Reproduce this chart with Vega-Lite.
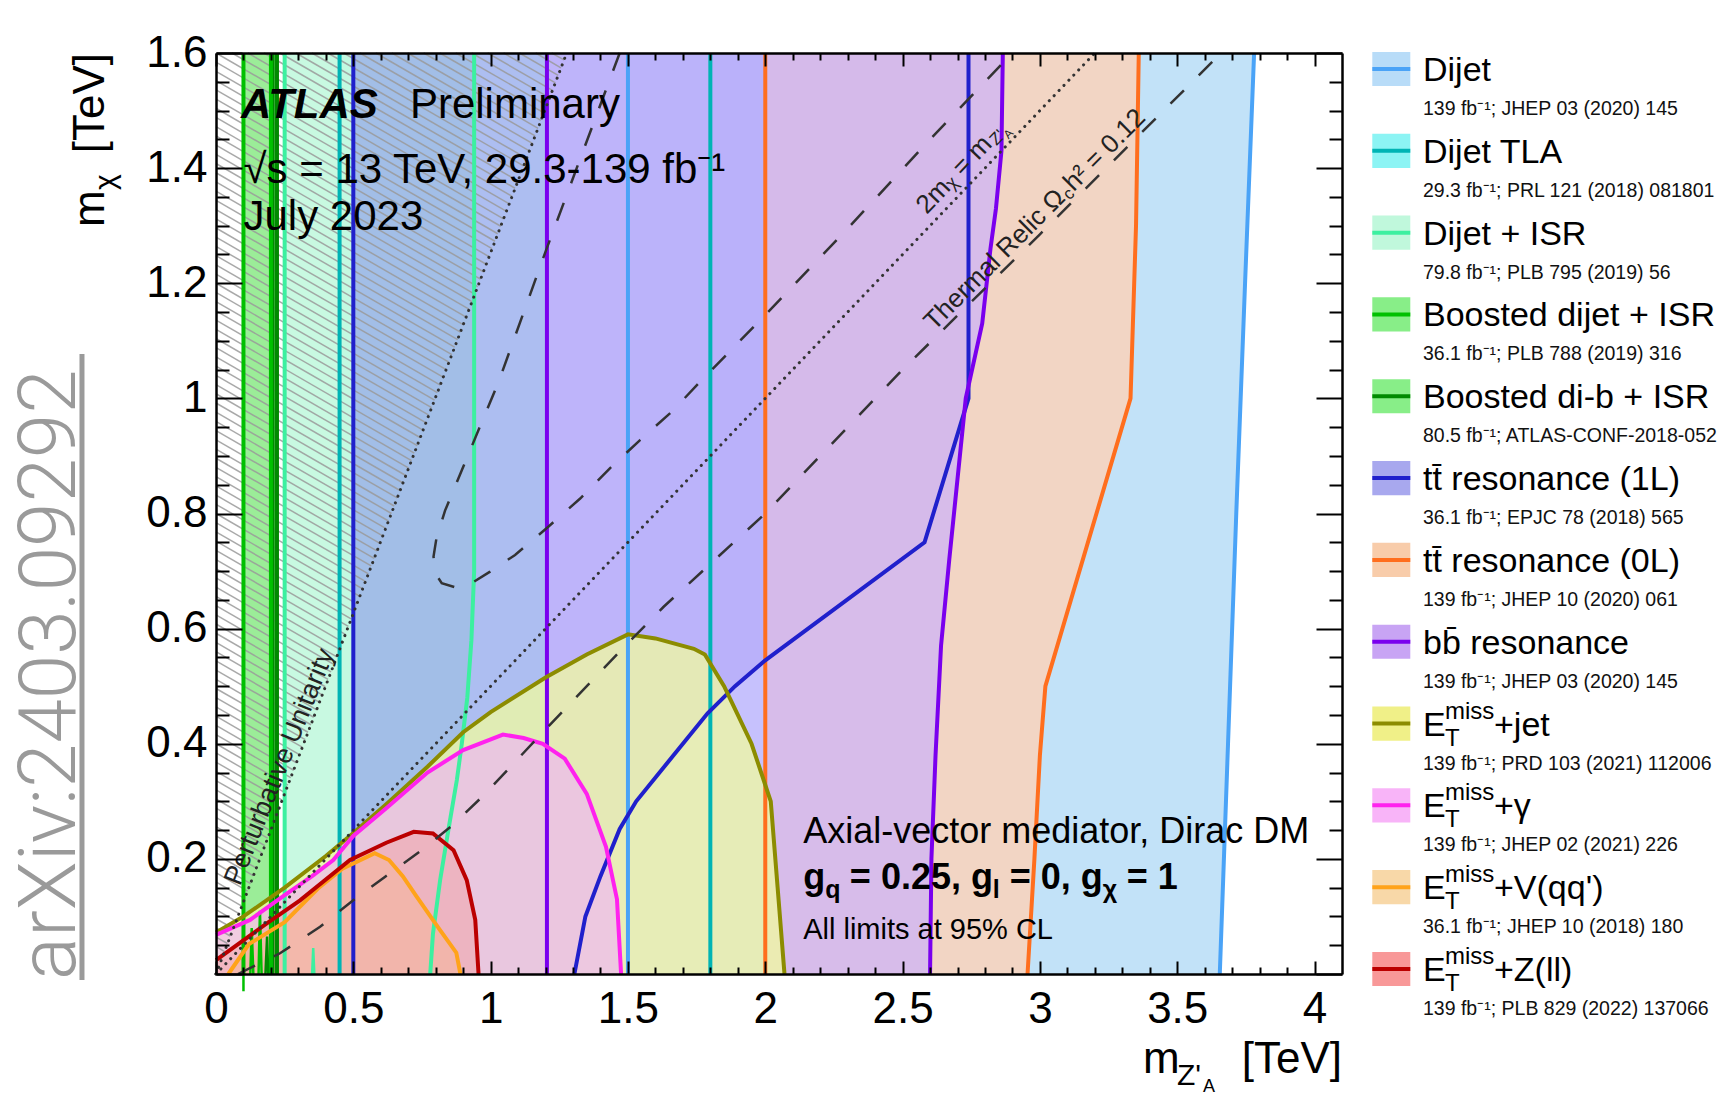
{
"$schema":"https://vega.github.io/schema/vega-lite/v6.json",
"width":1126,"height":921,
"autosize":{"type":"none"},
"padding":{"left":216,"top":53,"right":394,"bottom":124},
"background":"#ffffff",
"config":{"view":{"stroke":null},"font":"Liberation Sans"},
"datasets":{
"one":[{}],
"orig":[{"x":0,"y":0}],
"V":[
{"a":"01dijet","y":0,"x":1.5,"x2":3.655},{"a":"01dijet","y":0.4,"x":1.5,"x2":3.685},{"a":"01dijet","y":0.8,"x":1.5,"x2":3.715},{"a":"01dijet","y":1.2,"x":1.5,"x2":3.747},{"a":"01dijet","y":1.6,"x":1.5,"x2":3.78},
{"a":"02tla","y":0,"x":0.45,"x2":1.8},{"a":"02tla","y":1.6,"x":0.45,"x2":1.8},
{"a":"03isr","y":0,"x":0.25,"x2":0.78},{"a":"03isr","y":0.07,"x":0.25,"x2":0.79},{"a":"03isr","y":0.163,"x":0.25,"x2":0.816},{"a":"03isr","y":0.25,"x":0.25,"x2":0.846},{"a":"03isr","y":0.337,"x":0.25,"x2":0.877},{"a":"03isr","y":0.4,"x":0.25,"x2":0.895},{"a":"03isr","y":0.48,"x":0.25,"x2":0.915},{"a":"03isr","y":0.58,"x":0.25,"x2":0.93},{"a":"03isr","y":0.7,"x":0.25,"x2":0.94},{"a":"03isr","y":1.6,"x":0.25,"x2":0.94},
{"a":"04bdj","y":0,"x":0.1,"x2":0.2},{"a":"04bdj","y":1.6,"x":0.1,"x2":0.2},
{"a":"05bdb","y":0,"x":0.206,"x2":0.222},{"a":"05bdb","y":1.6,"x":0.206,"x2":0.222},
{"a":"06tt1","y":0,"x":0.5,"x2":1.305},{"a":"06tt1","y":0.1,"x":0.5,"x2":1.345},{"a":"06tt1","y":0.17,"x":0.5,"x2":1.4},{"a":"06tt1","y":0.252,"x":0.5,"x2":1.47},{"a":"06tt1","y":0.3,"x":0.5,"x2":1.53},{"a":"06tt1","y":0.453,"x":0.5,"x2":1.79},{"a":"06tt1","y":0.5,"x":0.5,"x2":1.89},{"a":"06tt1","y":0.545,"x":0.5,"x2":2.0},{"a":"06tt1","y":0.75,"x":0.5,"x2":2.58},{"a":"06tt1","y":1.0,"x":0.5,"x2":2.74},{"a":"06tt1","y":1.6,"x":0.5,"x2":2.74},
{"a":"07tt0","y":0,"x":2.0,"x2":2.955},{"a":"07tt0","y":0.2,"x":2.0,"x2":2.98},{"a":"07tt0","y":0.38,"x":2.0,"x2":3.0},{"a":"07tt0","y":0.5,"x":2.0,"x2":3.02},{"a":"07tt0","y":1.0,"x":2.0,"x2":3.33},{"a":"07tt0","y":1.3,"x":2.0,"x2":3.35},{"a":"07tt0","y":1.6,"x":2.0,"x2":3.36},
{"a":"08bb","y":0,"x":1.205,"x2":2.6},{"a":"08bb","y":0.2,"x":1.205,"x2":2.605},{"a":"08bb","y":0.38,"x":1.205,"x2":2.62},{"a":"08bb","y":0.57,"x":1.205,"x2":2.64},{"a":"08bb","y":0.72,"x":1.205,"x2":2.67},{"a":"08bb","y":1.0,"x":1.205,"x2":2.73},{"a":"08bb","y":1.13,"x":1.205,"x2":2.79},{"a":"08bb","y":1.26,"x":1.205,"x2":2.82},{"a":"08bb","y":1.33,"x":1.205,"x2":2.84},{"a":"08bb","y":1.43,"x":1.205,"x2":2.86},{"a":"08bb","y":1.6,"x":1.205,"x2":2.865}
],
"M":[
{"a":"09jet","x":0,"y":0.072},{"a":"09jet","x":0.1,"y":0.1},{"a":"09jet","x":0.25,"y":0.15},{"a":"09jet","x":0.4,"y":0.205},{"a":"09jet","x":0.5,"y":0.245},{"a":"09jet","x":0.62,"y":0.295},{"a":"09jet","x":0.77,"y":0.36},{"a":"09jet","x":0.9,"y":0.42},{"a":"09jet","x":1.0,"y":0.455},{"a":"09jet","x":1.2,"y":0.515},{"a":"09jet","x":1.35,"y":0.555},{"a":"09jet","x":1.5,"y":0.59},{"a":"09jet","x":1.6,"y":0.583},{"a":"09jet","x":1.74,"y":0.565},{"a":"09jet","x":1.78,"y":0.555},{"a":"09jet","x":1.85,"y":0.5},{"a":"09jet","x":1.89,"y":0.46},{"a":"09jet","x":1.95,"y":0.4},{"a":"09jet","x":2.02,"y":0.3},{"a":"09jet","x":2.045,"y":0.15},{"a":"09jet","x":2.07,"y":0},
{"a":"10gam","x":0,"y":0.068},{"a":"10gam","x":0.124,"y":0.094},{"a":"10gam","x":0.25,"y":0.137},{"a":"10gam","x":0.35,"y":0.17},{"a":"10gam","x":0.427,"y":0.198},{"a":"10gam","x":0.5,"y":0.24},{"a":"10gam","x":0.62,"y":0.288},{"a":"10gam","x":0.77,"y":0.35},{"a":"10gam","x":0.9,"y":0.389},{"a":"10gam","x":1.045,"y":0.416},{"a":"10gam","x":1.12,"y":0.41},{"a":"10gam","x":1.19,"y":0.4},{"a":"10gam","x":1.27,"y":0.374},{"a":"10gam","x":1.35,"y":0.313},{"a":"10gam","x":1.42,"y":0.221},{"a":"10gam","x":1.46,"y":0.13},{"a":"10gam","x":1.475,"y":0},
{"a":"11v","x":0.045,"y":0},{"a":"11v","x":0.12,"y":0.052},{"a":"11v","x":0.25,"y":0.09},{"a":"11v","x":0.37,"y":0.148},{"a":"11v","x":0.46,"y":0.183},{"a":"11v","x":0.578,"y":0.21},{"a":"11v","x":0.63,"y":0.198},{"a":"11v","x":0.68,"y":0.17},{"a":"11v","x":0.73,"y":0.135},{"a":"11v","x":0.81,"y":0.08},{"a":"11v","x":0.875,"y":0.037},{"a":"11v","x":0.89,"y":0},
{"a":"12z","x":0,"y":0.024},{"a":"12z","x":0.185,"y":0.088},{"a":"12z","x":0.306,"y":0.128},{"a":"12z","x":0.488,"y":0.198},{"a":"12z","x":0.62,"y":0.228},{"a":"12z","x":0.72,"y":0.247},{"a":"12z","x":0.79,"y":0.244},{"a":"12z","x":0.865,"y":0.215},{"a":"12z","x":0.913,"y":0.163},{"a":"12z","x":0.944,"y":0.094},{"a":"12z","x":0.956,"y":0}
],
"E":[
{"a":"04bdj","s":"e1","x":0.1,"y":-0.03},{"a":"04bdj","s":"e1","x":0.1,"y":0},
{"a":"04bdj","s":"e2","x":0.125,"y":0},{"a":"04bdj","s":"e2","x":0.13,"y":0.08},{"a":"04bdj","s":"e2","x":0.136,"y":0},
{"a":"04bdj","s":"e3","x":0.155,"y":0},{"a":"04bdj","s":"e3","x":0.16,"y":0.11},{"a":"04bdj","s":"e3","x":0.166,"y":0},
{"a":"05bdb","s":"e4","x":0.18,"y":0},{"a":"05bdb","s":"e4","x":0.186,"y":0.065},{"a":"05bdb","s":"e4","x":0.19,"y":0},
{"a":"03isr","s":"e5","x":0.35,"y":0},{"a":"03isr","s":"e5","x":0.354,"y":0.045},{"a":"03isr","s":"e5","x":0.358,"y":0}
],
"R":[{"x":0,"y":0,"x2":1.277,"y2":1.6},{"x":0,"y":0,"x2":3.2,"y2":1.6}],
"T":[
{"s":"A","i":0,"x":1.47,"y":1.6},{"s":"A","i":1,"x":1.2,"y":1.255},{"s":"A","i":2,"x":1.03,"y":1.03},{"s":"A","i":3,"x":0.895,"y":0.875},{"s":"A","i":4,"x":0.834,"y":0.805},{"s":"A","i":5,"x":0.803,"y":0.758},{"s":"A","i":6,"x":0.792,"y":0.725},{"s":"A","i":7,"x":0.8,"y":0.695},{"s":"A","i":8,"x":0.822,"y":0.679},{"s":"A","i":9,"x":0.87,"y":0.672},{"s":"A","i":10,"x":0.931,"y":0.679},{"s":"A","i":11,"x":0.998,"y":0.699},{"s":"A","i":12,"x":1.089,"y":0.728},{"s":"A","i":13,"x":1.21,"y":0.777},{"s":"A","i":14,"x":1.326,"y":0.826},{"s":"A","i":15,"x":1.435,"y":0.879},{"s":"A","i":16,"x":1.545,"y":0.928},{"s":"A","i":17,"x":1.66,"y":0.977},{"s":"A","i":18,"x":1.763,"y":1.029},{"s":"A","i":19,"x":2.0,"y":1.145},{"s":"A","i":20,"x":2.3,"y":1.295},{"s":"A","i":21,"x":2.6,"y":1.45},{"s":"A","i":22,"x":2.9,"y":1.6},
{"s":"B","i":0,"x":0.08,"y":0},{"s":"B","i":1,"x":0.233,"y":0.036},{"s":"B","i":2,"x":0.379,"y":0.082},{"s":"B","i":3,"x":0.494,"y":0.126},{"s":"B","i":4,"x":0.616,"y":0.169},{"s":"B","i":5,"x":0.749,"y":0.215},{"s":"B","i":6,"x":0.86,"y":0.258},{"s":"B","i":7,"x":0.974,"y":0.31},{"s":"B","i":8,"x":1.2,"y":0.425},{"s":"B","i":9,"x":1.5,"y":0.575},{"s":"B","i":10,"x":1.63,"y":0.638},{"s":"B","i":11,"x":2.0,"y":0.8},{"s":"B","i":12,"x":2.5,"y":1.05},{"s":"B","i":13,"x":3.0,"y":1.285},{"s":"B","i":14,"x":3.66,"y":1.6}
],
"H":[
{"x":0,"y":0.016,"x2":0.010,"y2":0.013},{"x":0,"y":0.032,"x2":0.021,"y2":0.026},{"x":0,"y":0.048,"x2":0.031,"y2":0.039},{"x":0,"y":0.064,"x2":0.042,"y2":0.053},{"x":0,"y":0.08,"x2":0.052,"y2":0.066},{"x":0,"y":0.096,"x2":0.063,"y2":0.079},{"x":0,"y":0.112,"x2":0.073,"y2":0.092},{"x":0,"y":0.128,"x2":0.084,"y2":0.105},{"x":0,"y":0.144,"x2":0.094,"y2":0.118},{"x":0,"y":0.16,"x2":0.105,"y2":0.131},
{"x":0,"y":0.176,"x2":0.115,"y2":0.144},{"x":0,"y":0.192,"x2":0.126,"y2":0.157},{"x":0,"y":0.208,"x2":0.136,"y2":0.171},{"x":0,"y":0.224,"x2":0.147,"y2":0.184},{"x":0,"y":0.24,"x2":0.157,"y2":0.197},{"x":0,"y":0.256,"x2":0.168,"y2":0.21},{"x":0,"y":0.272,"x2":0.178,"y2":0.223},{"x":0,"y":0.288,"x2":0.188,"y2":0.236},{"x":0,"y":0.304,"x2":0.199,"y2":0.249},{"x":0,"y":0.32,"x2":0.209,"y2":0.262},
{"x":0,"y":0.336,"x2":0.22,"y2":0.276},{"x":0,"y":0.352,"x2":0.23,"y2":0.289},{"x":0,"y":0.368,"x2":0.241,"y2":0.302},{"x":0,"y":0.384,"x2":0.251,"y2":0.315},{"x":0,"y":0.4,"x2":0.262,"y2":0.328},{"x":0,"y":0.416,"x2":0.272,"y2":0.341},{"x":0,"y":0.432,"x2":0.283,"y2":0.354},{"x":0,"y":0.448,"x2":0.293,"y2":0.367},{"x":0,"y":0.464,"x2":0.304,"y2":0.381},{"x":0,"y":0.48,"x2":0.314,"y2":0.394},
{"x":0,"y":0.496,"x2":0.325,"y2":0.407},{"x":0,"y":0.512,"x2":0.335,"y2":0.42},{"x":0,"y":0.528,"x2":0.346,"y2":0.433},{"x":0,"y":0.544,"x2":0.356,"y2":0.446},{"x":0,"y":0.56,"x2":0.367,"y2":0.459},{"x":0,"y":0.576,"x2":0.377,"y2":0.472},{"x":0,"y":0.592,"x2":0.387,"y2":0.485},{"x":0,"y":0.608,"x2":0.398,"y2":0.499},{"x":0,"y":0.624,"x2":0.408,"y2":0.512},{"x":0,"y":0.64,"x2":0.419,"y2":0.525},
{"x":0,"y":0.656,"x2":0.429,"y2":0.538},{"x":0,"y":0.672,"x2":0.44,"y2":0.551},{"x":0,"y":0.688,"x2":0.45,"y2":0.564},{"x":0,"y":0.704,"x2":0.461,"y2":0.577},{"x":0,"y":0.72,"x2":0.471,"y2":0.59},{"x":0,"y":0.736,"x2":0.482,"y2":0.604},{"x":0,"y":0.752,"x2":0.492,"y2":0.617},{"x":0,"y":0.768,"x2":0.503,"y2":0.63},{"x":0,"y":0.784,"x2":0.513,"y2":0.643},{"x":0,"y":0.8,"x2":0.524,"y2":0.656},
{"x":0,"y":0.816,"x2":0.534,"y2":0.669},{"x":0,"y":0.832,"x2":0.544,"y2":0.682},{"x":0,"y":0.848,"x2":0.555,"y2":0.695},{"x":0,"y":0.864,"x2":0.565,"y2":0.709},{"x":0,"y":0.88,"x2":0.576,"y2":0.722},{"x":0,"y":0.896,"x2":0.586,"y2":0.735},{"x":0,"y":0.912,"x2":0.597,"y2":0.748},{"x":0,"y":0.928,"x2":0.607,"y2":0.761},{"x":0,"y":0.944,"x2":0.618,"y2":0.774},{"x":0,"y":0.96,"x2":0.628,"y2":0.787},
{"x":0,"y":0.976,"x2":0.639,"y2":0.8},{"x":0,"y":0.992,"x2":0.649,"y2":0.813},{"x":0,"y":1.008,"x2":0.66,"y2":0.827},{"x":0,"y":1.024,"x2":0.67,"y2":0.84},{"x":0,"y":1.04,"x2":0.681,"y2":0.853},{"x":0,"y":1.056,"x2":0.691,"y2":0.866},{"x":0,"y":1.072,"x2":0.702,"y2":0.879},{"x":0,"y":1.088,"x2":0.712,"y2":0.892},{"x":0,"y":1.104,"x2":0.722,"y2":0.905},{"x":0,"y":1.12,"x2":0.733,"y2":0.918},
{"x":0,"y":1.136,"x2":0.743,"y2":0.932},{"x":0,"y":1.152,"x2":0.754,"y2":0.945},{"x":0,"y":1.168,"x2":0.764,"y2":0.958},{"x":0,"y":1.184,"x2":0.775,"y2":0.971},{"x":0,"y":1.2,"x2":0.785,"y2":0.984},{"x":0,"y":1.216,"x2":0.796,"y2":0.997},{"x":0,"y":1.232,"x2":0.806,"y2":1.01},{"x":0,"y":1.248,"x2":0.817,"y2":1.023},{"x":0,"y":1.264,"x2":0.827,"y2":1.037},{"x":0,"y":1.28,"x2":0.838,"y2":1.05},
{"x":0,"y":1.296,"x2":0.848,"y2":1.063},{"x":0,"y":1.312,"x2":0.859,"y2":1.076},{"x":0,"y":1.328,"x2":0.869,"y2":1.089},{"x":0,"y":1.344,"x2":0.88,"y2":1.102},{"x":0,"y":1.36,"x2":0.89,"y2":1.115},{"x":0,"y":1.376,"x2":0.9,"y2":1.128},{"x":0,"y":1.392,"x2":0.911,"y2":1.141},{"x":0,"y":1.408,"x2":0.921,"y2":1.155},{"x":0,"y":1.424,"x2":0.932,"y2":1.168},{"x":0,"y":1.44,"x2":0.942,"y2":1.181},
{"x":0,"y":1.456,"x2":0.953,"y2":1.194},{"x":0,"y":1.472,"x2":0.963,"y2":1.207},{"x":0,"y":1.488,"x2":0.974,"y2":1.22},{"x":0,"y":1.504,"x2":0.984,"y2":1.233},{"x":0,"y":1.52,"x2":0.995,"y2":1.246},{"x":0,"y":1.536,"x2":1.005,"y2":1.26},{"x":0,"y":1.552,"x2":1.016,"y2":1.273},{"x":0,"y":1.568,"x2":1.026,"y2":1.286},{"x":0,"y":1.584,"x2":1.037,"y2":1.299},{"x":0,"y":1.6,"x2":1.047,"y2":1.312},
{"x":0.058,"y":1.6,"x2":1.058,"y2":1.325},{"x":0.116,"y":1.6,"x2":1.068,"y2":1.338},{"x":0.175,"y":1.6,"x2":1.078,"y2":1.351},{"x":0.233,"y":1.6,"x2":1.089,"y2":1.365},{"x":0.291,"y":1.6,"x2":1.099,"y2":1.378},{"x":0.349,"y":1.6,"x2":1.11,"y2":1.391},{"x":0.407,"y":1.6,"x2":1.12,"y2":1.404},{"x":0.465,"y":1.6,"x2":1.131,"y2":1.417},{"x":0.524,"y":1.6,"x2":1.141,"y2":1.43},{"x":0.582,"y":1.6,"x2":1.152,"y2":1.443},
{"x":0.64,"y":1.6,"x2":1.162,"y2":1.456},{"x":0.698,"y":1.6,"x2":1.173,"y2":1.469},{"x":0.756,"y":1.6,"x2":1.183,"y2":1.483},{"x":0.815,"y":1.6,"x2":1.194,"y2":1.496},{"x":0.873,"y":1.6,"x2":1.204,"y2":1.509},{"x":0.931,"y":1.6,"x2":1.215,"y2":1.522},{"x":0.989,"y":1.6,"x2":1.225,"y2":1.535},{"x":1.047,"y":1.6,"x2":1.236,"y2":1.548},{"x":1.105,"y":1.6,"x2":1.246,"y2":1.561},{"x":1.164,"y":1.6,"x2":1.256,"y2":1.574},{"x":1.222,"y":1.6,"x2":1.267,"y2":1.588}
],
"G":[
{"a":"01dijet","t1":"Dijet","sup":"","sub":"","t2":"","ref":"139 fb⁻¹; JHEP 03 (2020) 145"},
{"a":"02tla","t1":"Dijet TLA","sup":"","sub":"","t2":"","ref":"29.3 fb⁻¹; PRL 121 (2018) 081801"},
{"a":"03isr","t1":"Dijet + ISR","sup":"","sub":"","t2":"","ref":"79.8 fb⁻¹; PLB 795 (2019) 56"},
{"a":"04bdj","t1":"Boosted dijet + ISR","sup":"","sub":"","t2":"","ref":"36.1 fb⁻¹; PLB 788 (2019) 316"},
{"a":"05bdb","t1":"Boosted di-b + ISR","sup":"","sub":"","t2":"","ref":"80.5 fb⁻¹; ATLAS-CONF-2018-052"},
{"a":"06tt1","t1":"tt\u0304 resonance (1L)","sup":"","sub":"","t2":"","ref":"36.1 fb⁻¹; EPJC 78 (2018) 565"},
{"a":"07tt0","t1":"tt\u0304 resonance (0L)","sup":"","sub":"","t2":"","ref":"139 fb⁻¹; JHEP 10 (2020) 061"},
{"a":"08bb","t1":"bb\u0304 resonance","sup":"","sub":"","t2":"","ref":"139 fb⁻¹; JHEP 03 (2020) 145"},
{"a":"09jet","t1":"E","sup":"miss","sub":"T","t2":"+jet","ref":"139 fb⁻¹; PRD 103 (2021) 112006"},
{"a":"10gam","t1":"E","sup":"miss","sub":"T","t2":"+γ","ref":"139 fb⁻¹; JHEP 02 (2021) 226"},
{"a":"11v","t1":"E","sup":"miss","sub":"T","t2":"+V(qq')","ref":"36.1 fb⁻¹; JHEP 10 (2018) 180"},
{"a":"12z","t1":"E","sup":"miss","sub":"T","t2":"+Z(ll)","ref":"139 fb⁻¹; PLB 829 (2022) 137066"}
]
},
"layer":[
{
"layer":[
{"data":{"name":"V"},"mark":{"type":"area","orient":"horizontal"},"encoding":{
"y":{"field":"y","type":"quantitative","scale":{"domain":[0,1.6],"nice":false,"zero":false},"axis":null},
"x":{"field":"x","type":"quantitative","stack":null,"scale":{"domain":[0,4.1],"nice":false,"zero":false},"axis":null},
"x2":{"field":"x2"},
"fill":{"field":"a","type":"nominal","scale":{"domain":["01dijet","02tla","03isr","04bdj","05bdb","06tt1","07tt0","08bb","09jet","10gam","11v","12z"],"range":["rgba(194,226,248,1)","rgba(200,248,248,0.6)","rgba(190,248,220,0.85)","rgba(150,236,146,0.95)","rgba(100,215,100,0.9)","rgba(140,150,235,0.6)","rgba(250,210,187,0.85)","rgba(200,175,255,0.65)","rgba(240,250,160,0.76)","rgba(240,170,255,0.57)","rgba(250,205,140,0.42)","rgba(245,150,145,0.38)"]},"legend":null}}},
{"data":{"name":"M"},"mark":{"type":"area","orient":"vertical"},"encoding":{
"x":{"field":"x","type":"quantitative","axis":null},
"y":{"field":"y","type":"quantitative","stack":null,"axis":null},
"y2":{"datum":0},
"fill":{"field":"a","type":"nominal","scale":{"domain":["01dijet","02tla","03isr","04bdj","05bdb","06tt1","07tt0","08bb","09jet","10gam","11v","12z"],"range":["rgba(194,226,248,1)","rgba(200,248,248,0.6)","rgba(190,248,220,0.85)","rgba(150,236,146,0.95)","rgba(100,215,100,0.9)","rgba(140,150,235,0.6)","rgba(250,210,187,0.85)","rgba(200,175,255,0.65)","rgba(240,250,160,0.76)","rgba(240,170,255,0.57)","rgba(250,205,140,0.42)","rgba(245,150,145,0.38)"]},"legend":null}}},
{"data":{"name":"H"},"mark":{"type":"rule","color":"#9a9a9a","strokeWidth":1.5,"opacity":0.85},"encoding":{
"x":{"field":"x","type":"quantitative","axis":null},"y":{"field":"y","type":"quantitative","axis":null},"x2":{"field":"x2"},"y2":{"field":"y2"}}},
{"data":{"name":"V"},"mark":{"type":"line","strokeWidth":4},"encoding":{
"x":{"field":"x","type":"quantitative","axis":null},"y":{"field":"y","type":"quantitative","axis":null},
"stroke":{"field":"a","type":"nominal","scale":{"domain":["01dijet","02tla","03isr","04bdj","05bdb","06tt1","07tt0","08bb","09jet","10gam","11v","12z"],"range":["#4aa3f7","#00b4b4","#3cf0a0","#00c000","#008a00","#2020cc","#ff6e1e","#7a00ee","#8c8c00","#ff22ee","#ffa31a","#bb0000"]},"legend":null},
"order":{"field":"y","type":"quantitative"}}},
{"data":{"name":"V"},"mark":{"type":"line","strokeWidth":4},"encoding":{
"x":{"field":"x2","type":"quantitative","axis":null},"y":{"field":"y","type":"quantitative","axis":null},
"stroke":{"field":"a","type":"nominal","legend":null},
"order":{"field":"y","type":"quantitative"}}},
{"data":{"name":"E"},"mark":{"type":"line","strokeWidth":2.5},"encoding":{
"x":{"field":"x","type":"quantitative","axis":null},"y":{"field":"y","type":"quantitative","axis":null},
"stroke":{"field":"a","type":"nominal","legend":null},"detail":{"field":"s"}}},
{"data":{"name":"M"},"mark":{"type":"line","strokeWidth":4},"encoding":{
"x":{"field":"x","type":"quantitative","axis":null},"y":{"field":"y","type":"quantitative","axis":null},
"stroke":{"field":"a","type":"nominal","legend":null}}},
{"data":{"name":"R"},"mark":{"type":"rule","color":"#333333","strokeWidth":3,"strokeDash":[0.1,7],"strokeCap":"round"},"encoding":{
"x":{"field":"x","type":"quantitative","axis":null},"y":{"field":"y","type":"quantitative","axis":null},"x2":{"field":"x2"},"y2":{"field":"y2"}}},
{"data":{"name":"T"},"mark":{"type":"line","color":"#333333","strokeWidth":2.5,"strokeDash":[19,21]},"encoding":{
"x":{"field":"x","type":"quantitative","axis":null},"y":{"field":"y","type":"quantitative","axis":null},
"detail":{"field":"s"},"order":{"field":"i","type":"quantitative"}}},

{"data":{"name":"one"},"mark":{"type":"text","text":"ATLAS","fontSize":42,"fontWeight":"bold","fontStyle":"italic","align":"left","baseline":"alphabetic","color":"#000"},"encoding":{"x":{"datum":0.091,"axis":null},"y":{"datum":1.487,"axis":null}}},
{"data":{"name":"one"},"mark":{"type":"text","text":"Preliminary","fontSize":42,"align":"left","baseline":"alphabetic","color":"#000"},"encoding":{"x":{"datum":0.706,"axis":null},"y":{"datum":1.487,"axis":null}}},
{"data":{"name":"one"},"mark":{"type":"text","text":"√s = 13 TeV, 29.3-139 fb⁻¹","fontSize":42,"align":"left","baseline":"alphabetic","color":"#000"},"encoding":{"x":{"datum":0.1,"axis":null},"y":{"datum":1.374,"axis":null}}},
{"data":{"name":"one"},"mark":{"type":"text","text":"July 2023","fontSize":42,"align":"left","baseline":"alphabetic","color":"#000"},"encoding":{"x":{"datum":0.1,"axis":null},"y":{"datum":1.293,"axis":null}}},
{"data":{"name":"one"},"mark":{"type":"text","text":"Axial-vector mediator, Dirac DM","fontSize":36,"align":"left","baseline":"alphabetic","color":"#000"},"encoding":{"x":{"datum":2.138,"axis":null},"y":{"datum":0.227,"axis":null}}},
{"data":{"name":"one"},"mark":{"type":"text","text":"g","fontSize":36,"fontWeight":"bold","align":"left","baseline":"alphabetic","color":"#000"},"encoding":{"x":{"datum":2.138,"axis":null},"y":{"datum":0.148,"axis":null}}},
{"data":{"name":"one"},"mark":{"type":"text","text":"q","fontSize":25,"fontWeight":"bold","align":"left","baseline":"alphabetic","dx":22,"dy":9,"color":"#000"},"encoding":{"x":{"datum":2.138,"axis":null},"y":{"datum":0.148,"axis":null}}},
{"data":{"name":"one"},"mark":{"type":"text","text":"= 0.25, g","fontSize":36,"fontWeight":"bold","align":"left","baseline":"alphabetic","dx":46.7,"color":"#000"},"encoding":{"x":{"datum":2.138,"axis":null},"y":{"datum":0.148,"axis":null}}},
{"data":{"name":"one"},"mark":{"type":"text","text":"l","fontSize":25,"fontWeight":"bold","align":"left","baseline":"alphabetic","dx":189.7,"dy":9,"color":"#000"},"encoding":{"x":{"datum":2.138,"axis":null},"y":{"datum":0.148,"axis":null}}},
{"data":{"name":"one"},"mark":{"type":"text","text":"= 0, g","fontSize":36,"fontWeight":"bold","align":"left","baseline":"alphabetic","dx":206.6,"color":"#000"},"encoding":{"x":{"datum":2.138,"axis":null},"y":{"datum":0.148,"axis":null}}},
{"data":{"name":"one"},"mark":{"type":"text","text":"χ","fontSize":25,"fontWeight":"bold","align":"left","baseline":"alphabetic","dx":299.6,"dy":9,"color":"#000"},"encoding":{"x":{"datum":2.138,"axis":null},"y":{"datum":0.148,"axis":null}}},
{"data":{"name":"one"},"mark":{"type":"text","text":"= 1","fontSize":36,"fontWeight":"bold","align":"left","baseline":"alphabetic","dx":323.6,"color":"#000"},"encoding":{"x":{"datum":2.138,"axis":null},"y":{"datum":0.148,"axis":null}}},
{"data":{"name":"one"},"mark":{"type":"text","text":"All limits at 95% CL","fontSize":29,"align":"left","baseline":"alphabetic","color":"#000"},"encoding":{"x":{"datum":2.138,"axis":null},"y":{"datum":0.061,"axis":null}}},
{"data":{"name":"one"},"mark":{"type":"text","text":"Perturbative Unitarity","fontSize":27,"align":"center","baseline":"middle","angle":292,"color":"#222"},"encoding":{"x":{"datum":0.232,"axis":null},"y":{"datum":0.36,"axis":null}}},
{"data":{"name":"one"},"mark":{"type":"text","text":"2mᵪ = m","fontSize":26,"align":"left","baseline":"middle","angle":313.6,"color":"#222"},"encoding":{"x":{"datum":2.567,"axis":null},"y":{"datum":1.328,"axis":null}}},
{"data":{"name":"one"},"mark":{"type":"text","text":"Z'","fontSize":17,"align":"left","baseline":"middle","angle":313.6,"dx":98,"dy":6,"color":"#222"},"encoding":{"x":{"datum":2.567,"axis":null},"y":{"datum":1.328,"axis":null}}},
{"data":{"name":"one"},"mark":{"type":"text","text":"A","fontSize":12,"align":"left","baseline":"middle","angle":313.6,"dx":111,"dy":11,"color":"#222"},"encoding":{"x":{"datum":2.567,"axis":null},"y":{"datum":1.328,"axis":null}}},
{"data":{"name":"one"},"mark":{"type":"text","text":"Thermal Relic Ω","fontSize":26,"align":"left","baseline":"middle","angle":315,"color":"#222"},"encoding":{"x":{"datum":2.595,"axis":null},"y":{"datum":1.126,"axis":null}}},
{"data":{"name":"one"},"mark":{"type":"text","text":"c","fontSize":17,"align":"left","baseline":"middle","angle":315,"dx":188,"dy":6,"color":"#222"},"encoding":{"x":{"datum":2.595,"axis":null},"y":{"datum":1.126,"axis":null}}},
{"data":{"name":"one"},"mark":{"type":"text","text":"h² = 0.12","fontSize":26,"align":"left","baseline":"middle","angle":315,"dx":197,"color":"#222"},"encoding":{"x":{"datum":2.595,"axis":null},"y":{"datum":1.126,"axis":null}}},
{"data":{"name":"one"},"mark":{"type":"text","text":"[TeV]","fontSize":44,"align":"right","baseline":"alphabetic","dy":99,"color":"#000"},"encoding":{"x":{"datum":4.1,"axis":null},"y":{"datum":0,"axis":null}}},
{"data":{"name":"one"},"mark":{"type":"text","text":"m","fontSize":44,"align":"left","baseline":"alphabetic","dx":-199,"dy":99,"color":"#000"},"encoding":{"x":{"datum":4.1,"axis":null},"y":{"datum":0,"axis":null}}},
{"data":{"name":"one"},"mark":{"type":"text","text":"Z'","fontSize":30,"align":"left","baseline":"alphabetic","dx":-165,"dy":111,"color":"#000"},"encoding":{"x":{"datum":4.1,"axis":null},"y":{"datum":0,"axis":null}}},
{"data":{"name":"one"},"mark":{"type":"text","text":"A","fontSize":18,"align":"left","baseline":"alphabetic","dx":-139,"dy":118,"color":"#000"},"encoding":{"x":{"datum":4.1,"axis":null},"y":{"datum":0,"axis":null}}},
{"data":{"name":"one"},"mark":{"type":"text","text":"m","fontSize":44,"align":"left","baseline":"alphabetic","angle":270,"dx":-174,"dy":-112,"color":"#000"},"encoding":{"x":{"datum":0,"axis":null},"y":{"datum":1.6,"axis":null}}},
{"data":{"name":"one"},"mark":{"type":"text","text":"χ","fontSize":30,"align":"left","baseline":"alphabetic","angle":270,"dx":-137,"dy":-101,"color":"#000"},"encoding":{"x":{"datum":0,"axis":null},"y":{"datum":1.6,"axis":null}}},
{"data":{"name":"one"},"mark":{"type":"text","text":"[TeV]","fontSize":44,"align":"right","baseline":"alphabetic","angle":270,"dx":0,"dy":-112,"color":"#000"},"encoding":{"x":{"datum":0,"axis":null},"y":{"datum":1.6,"axis":null}}},
{"data":{"name":"one"},"mark":{"type":"text","text":"arXiv:2403.09292","font":"Roboto","fontWeight":300,"fontSize":80,"align":"left","baseline":"alphabetic","angle":270,"dx":-6,"dy":-141,"color":"#9a9a9a"},"encoding":{"x":{"datum":0,"axis":null},"y":{"datum":0,"axis":null}}},
{"data":{"name":"one"},"mark":{"type":"rule","color":"#9a9a9a","strokeWidth":5},"encoding":{"x":{"datum":-0.488,"axis":null},"y":{"datum":-0.0104,"axis":null},"y2":{"datum":1.077}}},

{"data":{"name":"orig"},"mark":{"type":"point","opacity":0},"encoding":{
"x":{"field":"x","type":"quantitative","axis":{"orient":"bottom","values":[0,0.5,1,1.5,2,2.5,3,3.5,4],"format":"~g","ticks":false,"domain":true,"domainColor":"#000","domainWidth":2.5,"grid":false,"labelFontSize":44,"labelFont":"Liberation Sans","labelColor":"#000","labelPadding":13,"labelFlush":false,"labelOverlap":false,"labelBaseline":"top","title":null,"zindex":2}},
"y":{"field":"y","type":"quantitative","axis":{"orient":"left","values":[0.2,0.4,0.6,0.8,1,1.2,1.4,1.6],"format":"~g","ticks":false,"domain":true,"domainColor":"#000","domainWidth":2.5,"grid":false,"labelFontSize":44,"labelFont":"Liberation Sans","labelColor":"#000","labelPadding":9,"labelFlush":false,"labelOverlap":false,"title":null,"zindex":2}}}},
{"data":{"name":"orig"},"mark":{"type":"point","opacity":0},"encoding":{
"x":{"field":"x","type":"quantitative","axis":{"orient":"bottom","values":[0,0.5,1,1.5,2,2.5,3,3.5,4],"labels":false,"domain":false,"ticks":true,"tickSize":-13,"tickWidth":2,"tickColor":"#000","grid":false,"title":null,"zindex":2}},
"y":{"field":"y","type":"quantitative","axis":{"orient":"left","values":[0,0.2,0.4,0.6,0.8,1,1.2,1.4,1.6],"labels":false,"domain":false,"ticks":true,"tickSize":-26,"tickWidth":2,"tickColor":"#000","grid":false,"title":null,"zindex":2}}}},
{"data":{"name":"orig"},"mark":{"type":"point","opacity":0},"encoding":{
"x":{"field":"x","type":"quantitative","axis":{"orient":"bottom","values":[0.1,0.2,0.3,0.4,0.6,0.7,0.8,0.9,1.1,1.2,1.3,1.4,1.6,1.7,1.8,1.9,2.1,2.2,2.3,2.4,2.6,2.7,2.8,2.9,3.1,3.2,3.3,3.4,3.6,3.7,3.8,3.9],"labels":false,"domain":false,"ticks":true,"tickSize":-7,"tickWidth":2,"tickColor":"#000","grid":false,"title":null,"zindex":2}},
"y":{"field":"y","type":"quantitative","axis":{"orient":"left","values":[0.05,0.1,0.15,0.25,0.3,0.35,0.45,0.5,0.55,0.65,0.7,0.75,0.85,0.9,0.95,1.05,1.1,1.15,1.25,1.3,1.35,1.45,1.5,1.55],"labels":false,"domain":false,"ticks":true,"tickSize":-13,"tickWidth":2,"tickColor":"#000","grid":false,"title":null,"zindex":2}}}},
{"data":{"name":"orig"},"mark":{"type":"point","opacity":0},"encoding":{
"x":{"field":"x","type":"quantitative","axis":{"orient":"top","values":[0,0.5,1,1.5,2,2.5,3,3.5,4],"labels":false,"domain":true,"domainColor":"#000","domainWidth":2.5,"ticks":true,"tickSize":-13,"tickWidth":2,"tickColor":"#000","grid":false,"title":null,"zindex":2}},
"y":{"field":"y","type":"quantitative","axis":{"orient":"right","values":[0,0.2,0.4,0.6,0.8,1,1.2,1.4,1.6],"labels":false,"domain":true,"domainColor":"#000","domainWidth":2.5,"ticks":true,"tickSize":-26,"tickWidth":2,"tickColor":"#000","grid":false,"title":null,"zindex":2}}}},
{"data":{"name":"orig"},"mark":{"type":"point","opacity":0},"encoding":{
"x":{"field":"x","type":"quantitative","axis":{"orient":"top","values":[0.1,0.2,0.3,0.4,0.6,0.7,0.8,0.9,1.1,1.2,1.3,1.4,1.6,1.7,1.8,1.9,2.1,2.2,2.3,2.4,2.6,2.7,2.8,2.9,3.1,3.2,3.3,3.4,3.6,3.7,3.8,3.9],"labels":false,"domain":false,"ticks":true,"tickSize":-7,"tickWidth":2,"tickColor":"#000","grid":false,"title":null,"zindex":2}},
"y":{"field":"y","type":"quantitative","axis":{"orient":"right","values":[0.05,0.1,0.15,0.25,0.3,0.35,0.45,0.5,0.55,0.65,0.7,0.75,0.85,0.9,0.95,1.05,1.1,1.15,1.25,1.3,1.35,1.45,1.5,1.55],"labels":false,"domain":false,"ticks":true,"tickSize":-13,"tickWidth":2,"tickColor":"#000","grid":false,"title":null,"zindex":2}}}}
],
"resolve":{"axis":{"x":"independent","y":"independent"}}
},
{
"layer":[
{"data":{"name":"G"},"mark":{"type":"point","shape":"M-1,-0.9H1V0.9H-1Z","size":1444,"filled":true,"opacity":1,"strokeWidth":0},"encoding":{
"x":{"datum":0.0504,"type":"quantitative","scale":{"domain":[0,1],"range":[1157,1520]},"axis":null},
"y":{"field":"a","type":"nominal","scale":{"type":"point","range":[16,916],"padding":0},"axis":null},
"fill":{"field":"a","type":"nominal","scale":{"domain":["01dijet","02tla","03isr","04bdj","05bdb","06tt1","07tt0","08bb","09jet","10gam","11v","12z"],"range":["#b8dcf8","#8cf4f4","#c0f8dc","#88ee88","#88ee88","#a8a8ee","#f8ccaa","#c8a4f4","#f0f088","#f8b4f8","#f8d8a8","#f89898"]},"legend":null}}},
{"data":{"name":"G"},"mark":{"type":"point","shape":"M-1,0H1","size":1444,"filled":false,"opacity":1,"strokeWidth":4},"encoding":{
"x":{"datum":0.0504,"type":"quantitative","axis":null},
"y":{"field":"a","type":"nominal","axis":null},
"stroke":{"field":"a","type":"nominal","scale":{"domain":["01dijet","02tla","03isr","04bdj","05bdb","06tt1","07tt0","08bb","09jet","10gam","11v","12z"],"range":["#4aa3f7","#00b4b4","#3cf0a0","#00c000","#008a00","#2020cc","#ff6e1e","#7a00ee","#8c8c00","#ff22ee","#ffa31a","#bb0000"]},"legend":null}}},
{"data":{"name":"G"},"mark":{"type":"text","fontSize":34,"align":"left","baseline":"alphabetic","dy":12,"color":"#000"},"encoding":{
"x":{"datum":0.1377,"type":"quantitative","axis":null},"y":{"field":"a","type":"nominal","axis":null},"text":{"field":"t1"}}},
{"data":{"name":"G"},"mark":{"type":"text","fontSize":24,"align":"left","baseline":"alphabetic","dx":22,"dy":-5,"color":"#000"},"encoding":{
"x":{"datum":0.1377,"type":"quantitative","axis":null},"y":{"field":"a","type":"nominal","axis":null},"text":{"field":"sup"}}},
{"data":{"name":"G"},"mark":{"type":"text","fontSize":24,"align":"left","baseline":"alphabetic","dx":22,"dy":22,"color":"#000"},"encoding":{
"x":{"datum":0.1377,"type":"quantitative","axis":null},"y":{"field":"a","type":"nominal","axis":null},"text":{"field":"sub"}}},
{"data":{"name":"G"},"mark":{"type":"text","fontSize":34,"align":"left","baseline":"alphabetic","dx":71,"dy":12,"color":"#000"},"encoding":{
"x":{"datum":0.1377,"type":"quantitative","axis":null},"y":{"field":"a","type":"nominal","axis":null},"text":{"field":"t2"}}},
{"data":{"name":"G"},"mark":{"type":"text","fontSize":19.5,"align":"left","baseline":"alphabetic","dy":46,"color":"#111"},"encoding":{
"x":{"datum":0.1377,"type":"quantitative","axis":null},"y":{"field":"a","type":"nominal","axis":null},"text":{"field":"ref"}}}
]
}
],
"resolve":{"scale":{"x":"independent","y":"independent","fill":"independent"},"axis":{"x":"independent","y":"independent"}}
}
